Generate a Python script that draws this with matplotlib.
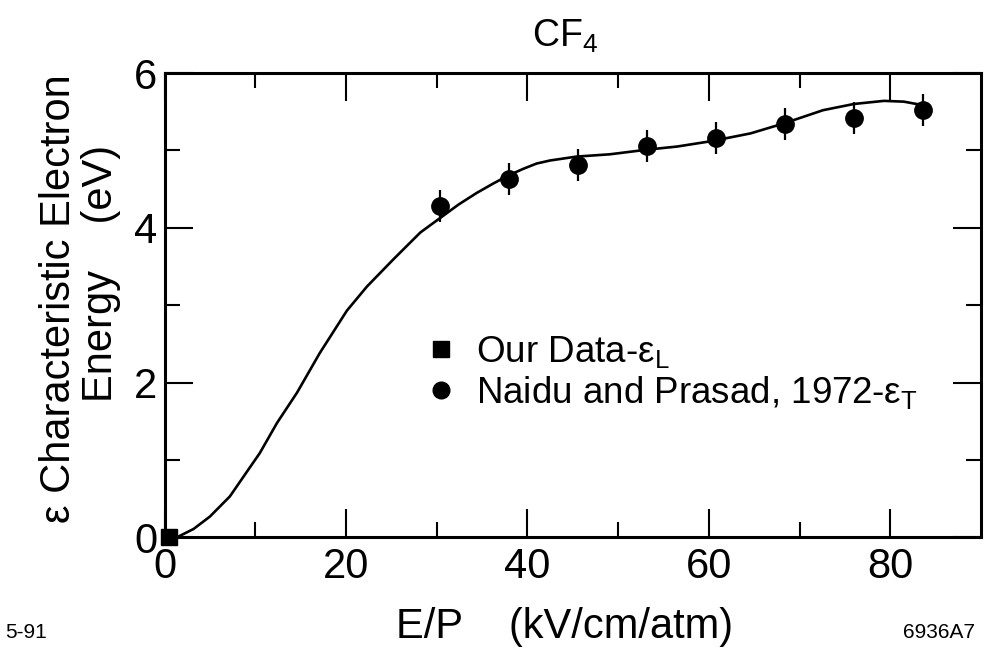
import matplotlib
matplotlib.use("Agg")
import matplotlib.pyplot as plt
from matplotlib.lines import Line2D


# =========================
# Data
# =========================

# Naidu and Prasad, 1972 (E/P in kV/cm/atm, energy in eV)
naidu_x = [30.4, 38.0, 45.6, 53.2, 60.8, 68.4, 76.0, 83.6]
naidu_y = [4.28, 4.63, 4.81, 5.06, 5.16, 5.34, 5.42, 5.52]
naidu_err = [0.21, 0.21, 0.21, 0.21, 0.21, 0.21, 0.21, 0.21]

# Our data (eps_L)
our_x = [0.5]
our_y = [0.0]

# Smooth curve through the data
curve_x = [1.5, 3.2, 5.0, 7.2, 9.2, 10.5, 12.4, 14.6, 17.1, 20.1, 22.3, 25.2,
           28.2, 30.3, 32.4, 34.4, 36.2, 37.8, 39.5, 41.0, 42.5, 45.4, 49.1,
           53.2, 56.5, 60.3, 64.6, 68.3, 72.6, 76.0, 79.3, 81.5, 83.8]
curve_y = [0.01, 0.11, 0.27, 0.53, 0.87, 1.09, 1.48, 1.87, 2.38, 2.93, 3.24, 3.59,
           3.94, 4.12, 4.30, 4.45, 4.57, 4.67, 4.76, 4.83, 4.87, 4.92, 4.95,
           5.01, 5.05, 5.12, 5.22, 5.35, 5.52, 5.60, 5.64, 5.63, 5.58]

x_ticks = [0, 20, 40, 60, 80]
y_ticks = [0, 2, 4, 6]


# =========================
# Style
# =========================

plt.rcParams["font.family"] = ["Liberation Sans", "DejaVu Sans"]
plt.rcParams["mathtext.fontset"] = "custom"
plt.rcParams["mathtext.rm"] = "Liberation Sans"
plt.rcParams["mathtext.it"] = "Liberation Sans"

fig = plt.figure(figsize=(9.87, 6.53), dpi=100)
fig.patch.set_facecolor("white")
ax = fig.add_axes([0.1667, 0.1769, 0.8272, 0.7113])


# =========================
# Plot
# =========================

ax.plot(curve_x, curve_y, color="black", linewidth=1.9, solid_capstyle="round")

ax.errorbar(naidu_x, naidu_y, yerr=naidu_err, fmt="o", color="black",
            markersize=12.5, elinewidth=1.6, capsize=0)

ax.plot(our_x, our_y, "s", color="black", markersize=12, clip_on=False, zorder=5)


# =========================
# Axes
# =========================

ax.set_xlim(0, 90)
ax.set_ylim(0, 6)
ax.set_xticks(x_ticks)
ax.set_yticks(y_ticks)
ax.set_xticks(range(10, 90, 20), minor=True)
ax.set_yticks([1, 3, 5], minor=True)

ax.tick_params(which="both", direction="in", top=True, right=True,
               labelsize=30, width=1.5, color="black")
ax.tick_params(which="major", length=20)
ax.tick_params(axis="x", which="major", pad=7)
ax.tick_params(axis="y", which="major", pad=5)
ax.tick_params(which="minor", length=11)

for spine in ax.spines.values():
    spine.set_linewidth(2.2)

fig.text(0.573, 0.945, "CF$_4$", ha="center", va="center", fontsize=27)

# Legend
handles = [
    Line2D([], [], marker="s", linestyle="none", color="black", markersize=11),
    Line2D([], [], marker="o", linestyle="none", color="black", markersize=12),
]
labels = ["Our Data-ε$_\\mathrm{L}$", "Naidu and Prasad, 1972-ε$_\\mathrm{T}$"]
ax.legend(handles, labels, loc="center left", bbox_to_anchor=(0.30, 0.355),
          frameon=False, fontsize=26.5, handlelength=0.7, handletextpad=0.6,
          labelspacing=0.12, borderpad=0)


# =========================
# Labels and corner notes
# =========================

fig.text(0.572, 0.040, "E/P    (kV/cm/atm)", ha="center", va="center", fontsize=30)
fig.text(0.060, 0.542, "ε Characteristic Electron", rotation=90,
         ha="center", va="center", fontsize=30)
fig.text(0.102, 0.582, "Energy    (eV)", rotation=90,
         ha="center", va="center", fontsize=30)

fig.text(0.005, 0.032, "5-91", ha="left", va="center", fontsize=15)
fig.text(0.988, 0.032, "6936A7", ha="right", va="center", fontsize=15)


# =========================
# Save
# =========================

fig.savefig("out.png", dpi=100)
